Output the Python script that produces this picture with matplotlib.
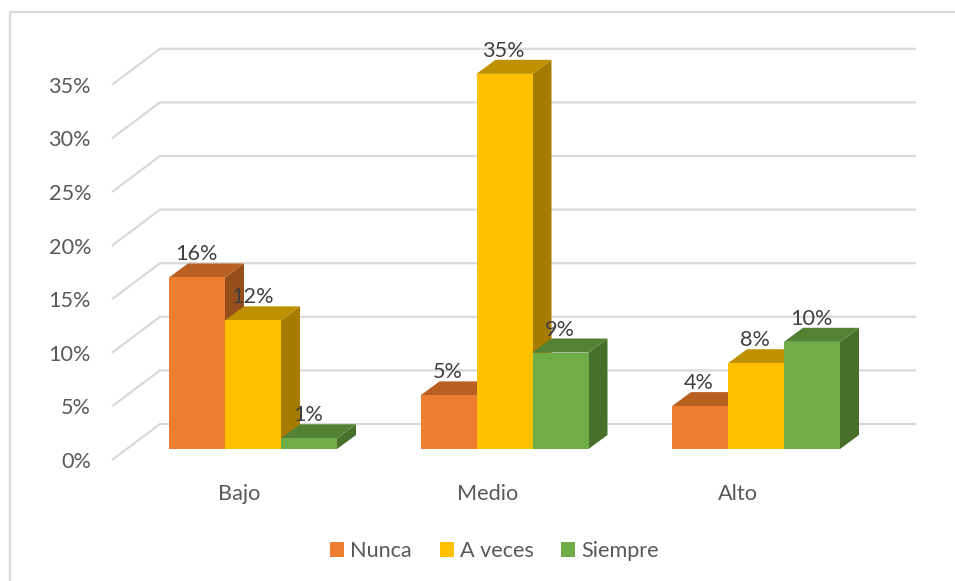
import matplotlib
matplotlib.use("Agg")
import matplotlib.pyplot as plt
from matplotlib.patches import Patch
from matplotlib.lines import Line2D

categories = ["Bajo", "Medio", "Alto"]
series_names = ["Nunca", "A veces", "Siempre"]
nunca = [16, 5, 4]
a_veces = [12, 35, 8]
siempre = [1, 9, 10]
y_ticks = [0, 5, 10, 15, 20, 25, 30, 35]

front_colors = ["#ED7D31", "#FFC000", "#70AD47"]
top_colors = ["#B85F22", "#BF9000", "#548235"]
side_colors = ["#964F1C", "#A67C00", "#48702B"]
GRID = "#D9D9D9"
TXT = "#595959"
LBL = "#404040"

W, H = 955, 581
PX_PER_PCT = 10.72
PX_PER_CAT = 251.5
FLOOR_PX = 449
CAT0_PX = 253
FS = 15.6
cat_label_shift_px = [-14, -17, -18]


def dx(px):
    return px / PX_PER_CAT


def dy(px):
    return px / PX_PER_PCT


plt.rcParams["font.family"] = ["Lato", "DejaVu Sans"]
fig = plt.figure(figsize=(W / 100, H / 100), dpi=100, facecolor="white")
ax = fig.add_axes([0, 0, 1, 1])
ax.set_xlim(-CAT0_PX / PX_PER_CAT, (W - CAT0_PX) / PX_PER_CAT)
ax.set_ylim((FLOOR_PX - H) / PX_PER_PCT, FLOOR_PX / PX_PER_PCT)
ax.axis("off")

# chart frame (top and left edges only are visible)
ax.add_line(Line2D([9.5 / W, 9.5 / W, 1], [0, 1 - 12 / H, 1 - 12 / H], transform=ax.transAxes,
                   color=GRID, lw=1.6, zorder=1))

# walls
x_front = dx(112 - CAT0_PX)
x_back = dx(160 - CAT0_PX)
x_end = dx(916 - CAT0_PX)
for t in y_ticks:
    y_f = t - dy(11)
    y_b = t + dy(25)
    ax.plot([x_front, x_back, x_end], [y_f, y_b, y_b], color=GRID, lw=1.6, zorder=1,
            solid_joinstyle="miter", solid_capstyle="butt")
    ax.text(dx(91 - CAT0_PX), t - dy(11), f"{t}%", ha="right", va="center_baseline",
            fontsize=FS, color=TXT)

# 3D bars
bar_w = 56 / PX_PER_CAT
ddx, ddy = dx(19), dy(14)
series = [nunca, a_veces, siempre]
z = 3
for g in range(len(categories)):
    for s, vals in enumerate(series):
        v = vals[g]
        x0 = g + (s - 1) * bar_w - bar_w / 2
        x1 = x0 + bar_w
        ax.fill([x1, x1 + ddx, x1 + ddx, x1], [0, ddy, v + ddy, v], color=side_colors[s], lw=0, zorder=z)
        ax.fill([x0, x1, x1 + ddx, x0 + ddx], [v, v, v + ddy, v + ddy], color=top_colors[s], lw=0, zorder=z)
        ax.bar(x0 + bar_w / 2, v, width=bar_w, color=front_colors[s], lw=0, zorder=z + 0.5)
        z += 1
for g in range(len(categories)):
    for s, vals in enumerate(series):
        ax.text(g + (s - 1) * bar_w - dx(1), vals[g] + dy(25), f"{vals[g]}%", ha="center", va="center_baseline",
                fontsize=FS, color=LBL, zorder=50)
    ax.text(g + dx(cat_label_shift_px[g]), -dy(43), categories[g], ha="center", va="center_baseline",
            fontsize=FS, color=TXT)

fs_px = FS * 100 / 72
handles = [Patch(facecolor=c, edgecolor="none", label=n) for c, n in zip(front_colors, series_names)]
ax.legend(handles=handles, loc="center", bbox_to_anchor=(494.5 / W, 1 - 551 / H), ncol=3, frameon=False,
          prop={"size": FS}, labelcolor=TXT, handlelength=14 / fs_px, handleheight=14 / fs_px,
          handletextpad=6 / fs_px, columnspacing=28 / fs_px, borderpad=0, borderaxespad=0)

fig.savefig("out.png", dpi=100, facecolor="white")
